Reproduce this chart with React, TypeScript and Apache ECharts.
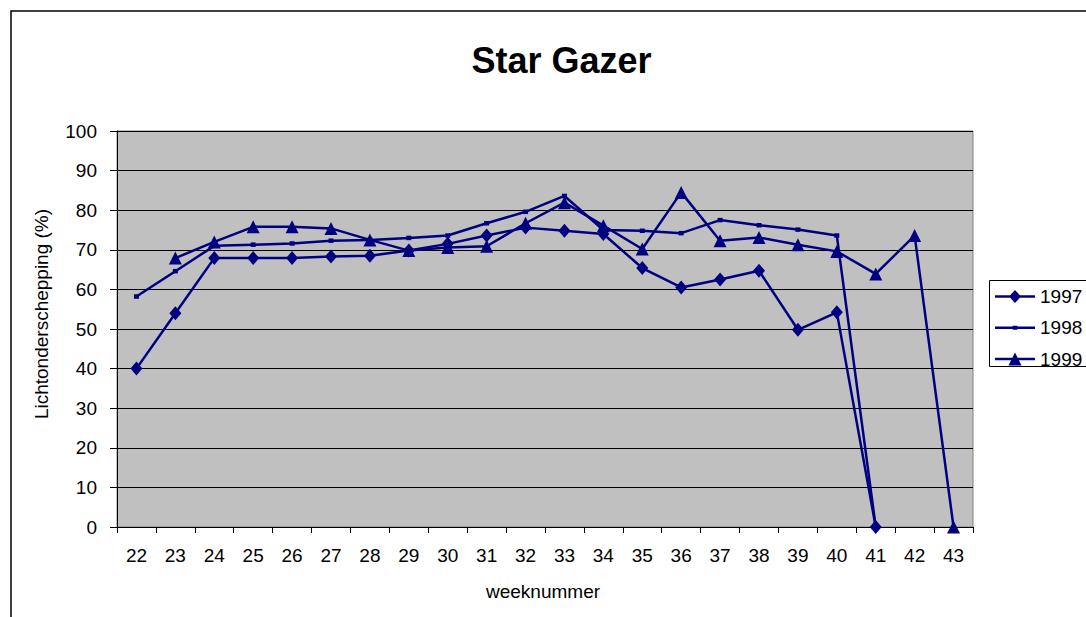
import React, { useEffect, useRef } from "react";
import * as echarts from "echarts";

const weeks = ["22", "23", "24", "25", "26", "27", "28", "29", "30", "31", "32", "33", "34", "35", "36", "37", "38", "39", "40", "41", "42", "43"];
const yTicks = { min: 0, max: 100, interval: 10 };
const seriesNames = ["1997", "1998", "1999"];
const s1997 = [40, 54, 67.9, 67.9, 67.9, 68.3, 68.5, 69.8, 71.5, 73.6, 75.6, 74.8, 74, 65.4, 60.5, 62.5, 64.7, 49.8, 54.2, 0, null, null];
const s1998 = [58.2, 64.6, 71, 71.3, 71.6, 72.3, 72.5, 73, 73.6, 76.7, 79.6, 83.6, 75, 74.8, 74.2, 77.5, 76.2, 75.1, 73.6, 0, null, null];
const s1999 = [null, 67.9, 72, 75.8, 75.8, 75.4, 72.5, 69.8, 70.6, 70.9, 76.7, 81.9, 76.1, 70.2, 84.5, 72.3, 73.1, 71.3, 69.6, 63.9, 73.6, 0];

const NAVY = "#000080";
const FONT = 'Arial, "Liberation Sans", sans-serif';

const ICON_1997 = "path://M0 5.25L40 5.25L40 7.75L0 7.75Z M20 0L26 6.5L20 13L14 6.5Z";
const ICON_1998 = "path://M0 5.25L40 5.25L40 7.75L0 7.75Z M17.75 4.5L22.25 4.5L22.25 8.5L17.75 8.5Z";
const ICON_1999 = "path://M0 5.25L40 5.25L40 7.75L0 7.75Z M20 0L26.5 13L13.5 13Z";

export default function App() {
  const ref = useRef<HTMLDivElement>(null);
  useEffect(() => {
    if (!ref.current) return;
    const chart = echarts.init(ref.current, undefined, { renderer: "svg" });
    const lineSeries = (name: string, data: (number | null)[], symbol: string, size: number | number[]) => ({
      name,
      type: "line",
      data,
      symbol,
      symbolSize: size,
      showAllSymbol: true,
      connectNulls: false,
      lineStyle: { color: NAVY, width: 2.5 },
      itemStyle: { color: NAVY, borderWidth: 0 },
      emphasis: { disabled: true },
    });
    chart.setOption({
      animation: false,
      backgroundColor: "#ffffff",
      title: {
        text: "Star Gazer",
        left: 556.5,
        top: 37,
        textAlign: "center",
        textStyle: { fontFamily: FONT, fontSize: 36, fontWeight: "bold", color: "#000" },
      },
      legend: {
        orient: "vertical",
        left: 995,
        top: 287,
        padding: 0,
        itemWidth: 40,
        itemHeight: 14,
        itemGap: 12.3,
        selectedMode: false,
        itemStyle: { borderWidth: 0 },
        textStyle: { fontFamily: FONT, fontSize: 19, color: "#000" },
        data: [
          { name: seriesNames[0], icon: ICON_1997 },
          { name: seriesNames[1], icon: ICON_1998 },
          { name: seriesNames[2], icon: ICON_1999 },
        ],
      },
      graphic: [
        {
          type: "rect",
          shape: { x: 11, y: 11, width: 2000, height: 2000 },
          style: { fill: "none", stroke: "#000", lineWidth: 1.5 },
          silent: true,
          z: -10,
        },
        {
          type: "rect",
          shape: { x: 989.5, y: 280.5, width: 300, height: 86 },
          style: { fill: "#fff", stroke: "#000", lineWidth: 1 },
          silent: true,
          z: -5,
        },
        {
          type: "text",
          x: 41,
          y: 314,
          rotation: Math.PI / 2,
          style: {
            text: "Lichtonderschepping (%)",
            fontFamily: FONT,
            fontSize: 19,
            fill: "#000",
            textAlign: "center",
            textVerticalAlign: "middle",
          },
          silent: true,
        },
        {
          type: "text",
          x: 543,
          y: 591,
          style: {
            text: "weeknummer",
            fontFamily: FONT,
            fontSize: 19,
            fill: "#000",
            textAlign: "center",
            textVerticalAlign: "middle",
          },
          silent: true,
        },
      ],
      grid: {
        left: 117,
        top: 131,
        width: 856,
        height: 396,
        show: true,
        backgroundColor: "#C0C0C0",
        borderColor: "#808080",
        borderWidth: 1,
        containLabel: false,
      },
      xAxis: {
        type: "category",
        data: weeks,
        boundaryGap: true,
        axisLine: { show: true, lineStyle: { color: "#000", width: 1 } },
        axisTick: { show: true, length: 6, alignWithLabel: false, interval: 0, lineStyle: { color: "#000" } },
        axisLabel: { interval: 0, margin: 19, fontFamily: FONT, fontSize: 19, color: "#000" },
        splitLine: { show: false },
      },
      yAxis: {
        type: "value",
        min: yTicks.min,
        max: yTicks.max,
        interval: yTicks.interval,
        axisLine: { show: true, lineStyle: { color: "#000", width: 1 } },
        axisTick: { show: true, length: 7, lineStyle: { color: "#000" } },
        axisLabel: { margin: 20, fontFamily: FONT, fontSize: 19, color: "#000" },
        splitLine: { show: true, lineStyle: { color: "#000", width: 1 } },
      },
      series: [
        lineSeries(seriesNames[0], s1997, "diamond", [12, 14]),
        lineSeries(seriesNames[1], s1998, "rect", [5, 4.5]),
        lineSeries(seriesNames[2], s1999, "triangle", [13, 13]),
      ],
    });
    return () => chart.dispose();
  }, []);
  return (
    <div
      ref={ref}
      style={{ position: "absolute", left: 0, top: 0, width: 1086, height: 617 }}
    />
  );
}
